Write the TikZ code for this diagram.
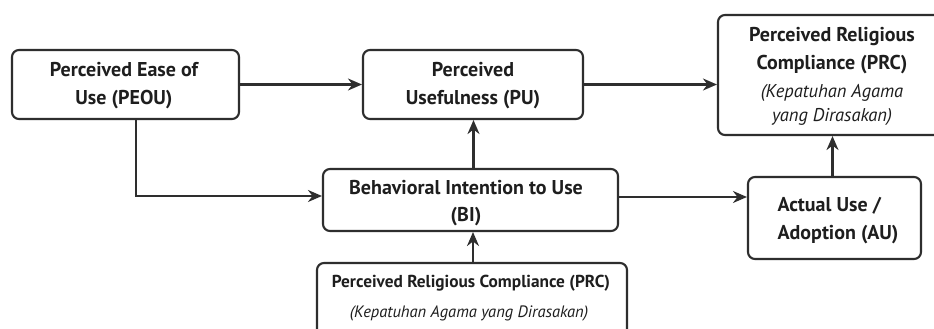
\documentclass[tikz,border=0pt]{standalone}
\usepackage{fontspec}
\setmainfont{PT Sans}
\usetikzlibrary{arrows.meta}
\definecolor{ln}{HTML}{2E2E2E}
\definecolor{tx}{HTML}{1E1E1E}
\tikzset{
  box/.style={draw=ln, line width=2.1pt, rounded corners=7pt, fill=white, inner sep=0pt, align=center, text=tx},
  conn/.style={draw=ln, line width=2.1pt, -{Stealth[length=14pt,width=12pt]}},
  lbl/.style={text=tx, align=center, inner sep=0pt},
  mainf/.style={font=\bfseries\fontsize{20}{28}\selectfont},
}
\begin{document}
\begin{tikzpicture}[x=1pt,y=-1pt]
\clip (0,0) rectangle (934,329);
\fill[white] (0,0) rectangle (934,329);
\node[box, minimum width=227pt, minimum height=69pt] (peou) at (125.5,84.5) {};
\node[lbl, mainf] (peout) at (124,86) {Perceived Ease of\\Use (PEOU)};
\node[box, minimum width=220pt, minimum height=69pt] (pu) at (473,84.5) {};
\node[lbl, mainf] (put) at (473,86) {Perceived\\Usefulness (PU)};
\node[box, minimum width=228pt, minimum height=120pt] (prc) at (832,75) {};
\node[lbl, mainf] (prct) at (832,51) {Perceived Religious\\Compliance (PRC)};
\node[lbl, font=\itshape\fontsize{18.5}{24}\selectfont] (prci) at (832,105) {(Kepatuhan Agama\\yang Dirasakan)};
\node[box, minimum width=295pt, minimum height=62pt] (bi) at (470.5,200) {};
\node[lbl, font=\bfseries\fontsize{20}{27}\selectfont] (bit) at (466,203.5) {Behavioral Intention to Use\\(BI)};
\node[box, minimum width=310pt, minimum height=76pt] (prcb) at (472,301) {};
\node[lbl, font=\bfseries\fontsize{17.3}{20}\selectfont] (prcbt) at (471,283) {Perceived Religious Compliance (PRC)};
\node[lbl, font=\itshape\fontsize{16.5}{20}\selectfont] (prcbi) at (469,313) {(Kepatuhan Agama yang Dirasakan)};
\node[box, minimum width=173pt, minimum height=82pt] (au) at (834.5,218) {};
\node[lbl, align=left, mainf] (aut) at (838,221) {Actual Use /\\Adoption (AU)};
\coordinate (peoub) at (136,119);
\draw[conn] (peou.east) -- (pu.west);
\draw[conn] (pu.east) -- (pu.east -| prc.west);
\draw[conn] (peoub) |- ([yshift=4pt]bi.west);
\draw[conn] ([xshift=3pt]bi.north) -- ([xshift=3pt]bi.north |- pu.south);
\draw[conn] ([xshift=1pt]prcb.north) -- ([xshift=1pt]prcb.north |- bi.south);
\draw[conn] ([yshift=3pt]bi.east) -- ([yshift=3pt]bi.east -| au.west);
\draw[conn] ([xshift=-2pt]au.north) -- ([xshift=-2pt]au.north |- prc.south);
\end{tikzpicture}
\end{document}
